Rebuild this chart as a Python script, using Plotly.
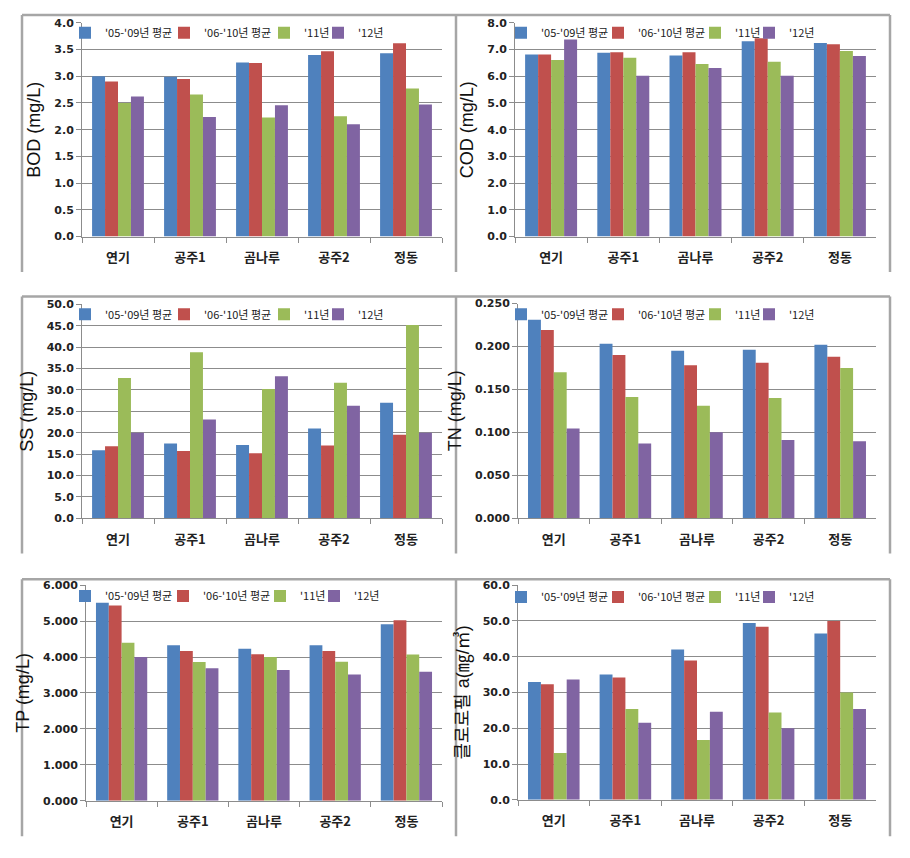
import plotly.graph_objects as go

# ---------------- data ----------------
sites = ["연기", "공주1", "곰나루", "공주2", "정동"]
series_names = ["'05-'09년 평균", "'06-'10년 평균", "'11년", "'12년"]

bod_0509 = [3.00, 2.99, 3.26, 3.40, 3.43]
bod_0610 = [2.90, 2.95, 3.25, 3.47, 3.62]
bod_11 = [2.50, 2.66, 2.23, 2.25, 2.77]
bod_12 = [2.62, 2.24, 2.46, 2.10, 2.47]

cod_0509 = [6.82, 6.88, 6.78, 7.31, 7.25]
cod_0610 = [6.82, 6.90, 6.90, 7.42, 7.20]
cod_11 = [6.61, 6.69, 6.46, 6.54, 6.95]
cod_12 = [7.38, 6.02, 6.31, 6.02, 6.76]

ss_0509 = [15.9, 17.5, 17.1, 21.0, 27.0]
ss_0610 = [16.8, 15.7, 15.2, 17.0, 19.5]
ss_11 = [32.8, 38.8, 30.2, 31.7, 45.2]
ss_12 = [20.0, 23.1, 33.2, 26.3, 20.0]

tn_0509 = [0.231, 0.203, 0.195, 0.196, 0.202]
tn_0610 = [0.219, 0.190, 0.178, 0.181, 0.188]
tn_11 = [0.170, 0.141, 0.131, 0.140, 0.175]
tn_12 = [0.1045, 0.087, 0.100, 0.091, 0.0896]

tp_0509 = [5.51, 4.33, 4.23, 4.33, 4.91]
tp_0610 = [5.43, 4.17, 4.08, 4.17, 5.02]
tp_11 = [4.40, 3.86, 4.00, 3.87, 4.07]
tp_12 = [4.00, 3.69, 3.64, 3.51, 3.59]

chl_0509 = [32.9, 35.0, 42.0, 49.4, 46.5]
chl_0610 = [32.3, 34.2, 38.9, 48.4, 50.0]
chl_11 = [13.1, 25.4, 16.7, 24.4, 30.0]
chl_12 = [33.6, 21.5, 24.6, 20.0, 25.4]

y_titles = ["BOD (mg/L)", "COD (mg/L)", "SS (mg/L)", "TN (mg/L)", "TP (mg/L)", "클로로필 a(㎎/㎥)"]
y_max = [4.0, 8.0, 50.0, 0.25, 6.0, 60.0]
y_step = [0.5, 1.0, 5.0, 0.05, 1.0, 10.0]
y_fmt = [".1f", ".1f", ".1f", ".3f", ".3f", ".1f"]

panels = [
    [bod_0509, bod_0610, bod_11, bod_12],
    [cod_0509, cod_0610, cod_11, cod_12],
    [ss_0509, ss_0610, ss_11, ss_12],
    [tn_0509, tn_0610, tn_11, tn_12],
    [tp_0509, tp_0610, tp_11, tp_12],
    [chl_0509, chl_0610, chl_11, chl_12],
]

# ---------------- style / layout ----------------
colors = ["#4F81BD", "#C0504D", "#9BBB59", "#8064A2"]
OFF = 8                      # default page body margin
W, H = 910 - OFF, 858 - OFF  # figure size so that it fits the window

def fx(px):
    return (px - OFF) / W

def fy(py):
    return 1 - (py - OFF) / H

# plot areas in window pixels: (left, right, top, bottom)
areas = [
    (82, 442, 17, 234),
    (515, 876, 17, 234),
    (82, 442, 303, 520),
    (518, 876, 302, 520),
    (86, 442, 588, 807),
    (518, 876, 588, 806),
]
# legend text start positions (px) per panel, and legend centre y
leg_text_x = [
    [105, 204, 304, 358],
    [541, 638, 735, 789],
    [105, 204, 304, 358],
    [541, 638, 735, 789],
    [105, 203, 300, 354],
    [541, 638, 735, 789],
]
leg_y = [27, 27, 313, 313, 599, 600]

fig = go.Figure()
layout = {}
grid_col = "#8c8c8c"
for p in range(6):
    sfx = "" if p == 0 else str(p + 1)
    for s in range(4):
        lid = p * 4 + s + 1
        lname = "legend" if lid == 1 else f"legend{lid}"
        fig.add_trace(go.Bar(
            x=sites, y=panels[p][s], name=series_names[s],
            marker=dict(color=colors[s], line=dict(width=0)),
            xaxis="x" + sfx, yaxis="y" + sfx,
            legend=lname, showlegend=True,
        ))
        layout[lname] = dict(
            x=fx(leg_text_x[p][s] - 40), y=fy(leg_y[p]),
            xanchor="left", yanchor="middle",
            orientation="h", bgcolor="rgba(0,0,0,0)",
            font=dict(family="Noto Sans CJK KR", size=11, color="#222"),
            itemclick=False, itemdoubleclick=False,
        )
    l, r, t, b = areas[p]
    layout["xaxis" + sfx] = dict(
        domain=[fx(l), fx(r)], anchor="y" + sfx,
        showline=True, linecolor=grid_col, linewidth=1,
        ticks="outside", ticklen=5, tickcolor=grid_col, tickson="boundaries",
        ticklabelstandoff=9,
        tickfont=dict(family="Noto Sans CJK KR", size=13, color="#222", weight="bold"),
        showgrid=False, fixedrange=True,
    )
    layout["yaxis" + sfx] = dict(
        domain=[fy(b), fy(t)], anchor="x" + sfx,
        range=[0, y_max[p]], dtick=y_step[p], tick0=0, tickformat=y_fmt[p],
        showline=True, linecolor=grid_col, linewidth=1,
        ticks="outside", ticklen=5, tickcolor=grid_col,
        showgrid=True, gridcolor=grid_col, gridwidth=1,
        zeroline=False,
        tickfont=dict(family="DejaVu Sans", size=11, color="#222", weight="bold"),
        title=dict(text=y_titles[p], standoff=8,
                   font=dict(family="Liberation Sans, Noto Sans CJK KR", size=18, color="#111")),
        fixedrange=True,
    )

# chart frames (top, left and right borders of each chart box)
frame_col = "#a6a6a6"
shapes = []
rows = [(9, 270), (295, 556), (582, 843)]
for (top, bot) in rows:
    shapes.append(dict(type="line", xref="paper", yref="paper",
                       x0=fx(22), x1=fx(890), y0=fy(top), y1=fy(top),
                       line=dict(color=frame_col, width=2.5)))
    for xv in (22, 456, 890):
        shapes.append(dict(type="line", xref="paper", yref="paper",
                           x0=fx(xv), x1=fx(xv), y0=fy(top), y1=fy(bot),
                           line=dict(color=frame_col, width=2.5)))

fig.update_layout(
    width=W, height=H,
    margin=dict(l=0, r=0, t=0, b=0),
    paper_bgcolor="white", plot_bgcolor="white",
    barmode="group", bargap=0.28, bargroupgap=0,
    shapes=shapes,
    **layout,
)

fig.write_html("out.html")
